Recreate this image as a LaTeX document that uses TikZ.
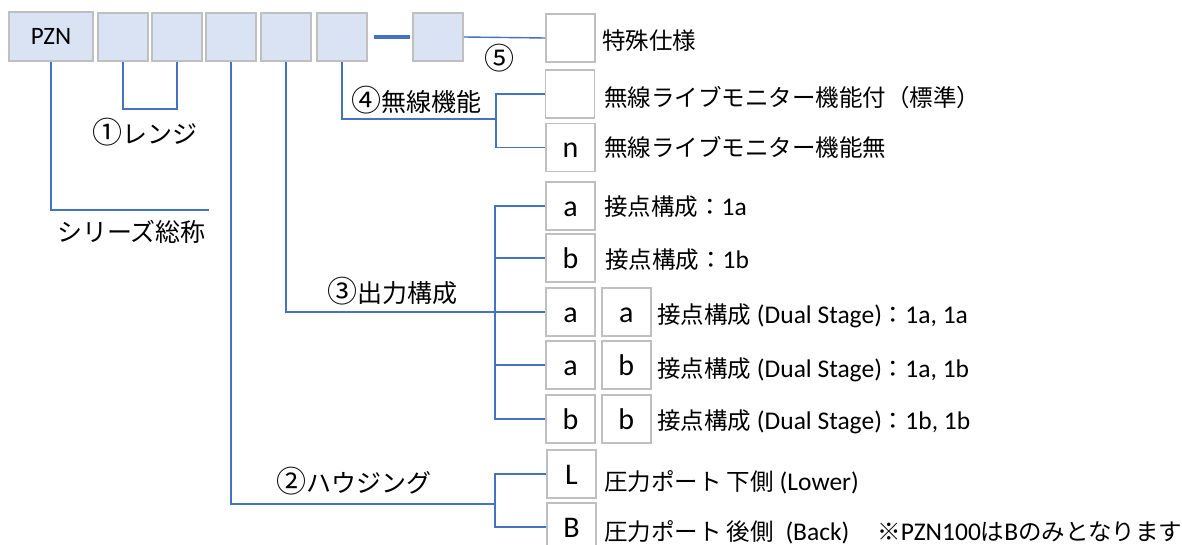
\documentclass[tikz,border=0pt]{standalone}
\usepackage{fontspec}
\setmainfont{Carlito}
\newfontfamily\jpfont{Noto Sans CJK JP}
\usepackage{tikz}
\usetikzlibrary{positioning}
\definecolor{codefill}{HTML}{DAE3F3}
\definecolor{boxgray}{HTML}{BFBFBF}
\definecolor{linkblue}{HTML}{4472C4}
\newcommand\jt[1]{{\jpfont\fontsize{23.5}{28}\selectfont #1}}
\newcommand\cnum[1]{{\fontsize{30}{30}\selectfont #1}}
\tikzset{
  codebox/.style={draw=boxgray, fill=codefill, line width=1.8pt, minimum width=50pt, minimum height=48pt, inner sep=0pt},
  optbox/.style={draw=boxgray, line width=1.8pt, minimum width=49pt, minimum height=48pt, inner sep=0pt, text height=21pt, text depth=0pt, font=\fontsize{30}{30}\selectfont},
  link/.style={draw=linkblue, line width=1.4pt},
  desc/.style={anchor=base west, inner sep=0pt, font=\fontsize{25.5}{30}\selectfont},
  partlbl/.style={anchor=base west, inner sep=0pt, font=\jpfont\fontsize{25}{30}\selectfont}
}

\begin{document}
\begin{tikzpicture}[x=1pt, y=-1pt]
    \useasboundingbox (0,0) rectangle (1182,545);
    \clip (0,0) rectangle (1182,545);

    % code boxes
    \node[codebox, minimum width=84pt, minimum height=49pt, text height=16pt, text depth=0pt, font=\fontsize{25}{25}\selectfont] (pzn) at (51,36.5) {PZN};
    \node[codebox] (rng1) at (123,37) {};
    \node[codebox] (rng2) at (177,37) {};
    \node[codebox] (hsg) at (231,37) {};
    \node[codebox] (outp) at (286,37) {};
    \node[codebox] (wls) at (342,37) {};
    \node[codebox] (spc) at (438,37) {};

    % option boxes
    \node[optbox] (spopt) at (570.5,38) {};
    \node[optbox] (wlstd) at (570,94) {};
    \node[optbox] (wlno) at (570.5,147.5) {n};
    \node[optbox] (oa) at (570.5,206) {a};
    \node[optbox] (ob) at (570.5,258) {b};
    \node[optbox] (oaa) at (570.5,312) {a};
    \node[optbox, right=5pt of oaa] (oaa2) {a};
    \node[optbox] (oab) at (570.5,365) {a};
    \node[optbox, right=5pt of oab] (oab2) {b};
    \node[optbox] (obb) at (570.5,419) {b};
    \node[optbox, right=5pt of obb] (obb2) {b};
    \node[optbox] (hl) at (571.5,474) {L};
    \node[optbox] (hb) at (571.5,527) {B};

    % descriptions
    \node[desc] (dspc) at (602,50) {\jt{特殊仕様}};
    \node[desc] (dwlstd) at (604,107) {\jt{無線ライブモニター機能付（標準）}};
    \node[desc] (dwlno) at (604,157) {\jt{無線ライブモニター機能無}};
    \node[desc] (doa) at (604,216) {\jt{接点構成：}1a};
    \node[desc] (dob) at (605,268) {\jt{接点構成：}1b};
    \node[desc] (doaa) at (657,323) {\jt{接点構成} (Dual Stage)\jt{：}1a, 1a};
    \node[desc] (doab) at (657,377) {\jt{接点構成} (Dual Stage)\jt{：}1a, 1b};
    \node[desc] (dobb) at (657,429) {\jt{接点構成} (Dual Stage)\jt{：}1b, 1b};
    \node[desc] (dhl) at (604,490) {\jt{圧力ポート 下側} (Lower)};
    \node[desc] (dhb) at (604,540) {\jt{圧力ポート 後側}\ \ (Back)\hspace{28pt}\jt{※}PZN100\jt{は}B\jt{のみとなります}};

    % part labels
    \node[partlbl] (lrng) at (92,144) {\cnum{①}レンジ};
    \node[partlbl] (lser) at (57,242) {シリーズ総称};
    \node[partlbl] (lwls) at (351,112) {\cnum{④}無線機能};
    \node[partlbl] (lout) at (327,302) {\cnum{③}出力構成};
    \node[partlbl] (lhsg) at (276,492) {\cnum{②}ハウジング};
    \node[partlbl, anchor=base] (lspc) at (499.5,70) {\cnum{⑤}};

    % connectors
    \coordinate (serend) at (209,210);
    \draw[link] (pzn.south) |- (serend);
    \draw[link] (rng1.south) -- ++(0,47) -| (rng2.south);
    \draw[link, line width=4pt, shorten <=6pt, shorten >=2pt] (wls.east) -- (spc.west);
    \draw[link] (spc.east) -- (spopt.west);

    \coordinate (wlsfork) at (496,119);
    \draw[link] (wls.south) |- (wlsfork);
    \draw[link] (wlstd.west) -| (wlsfork) |- (wlno.west);

    \coordinate (outfork) at (495,312);
    \draw[link] (outp.south) |- (oaa.west);
    \draw[link] (oa.west) -| (outfork) |- (obb.west);
    \draw[link] (outfork |- ob.west) -- (ob.west);
    \draw[link] (outfork |- oab.west) -- (oab.west);

    \coordinate (hsgfork) at (495,504);
    \draw[link] (hsg.south) |- (hsgfork);
    \draw[link] (hl.west) -| (hsgfork) |- (hb.west);
\end{tikzpicture}
\end{document}
